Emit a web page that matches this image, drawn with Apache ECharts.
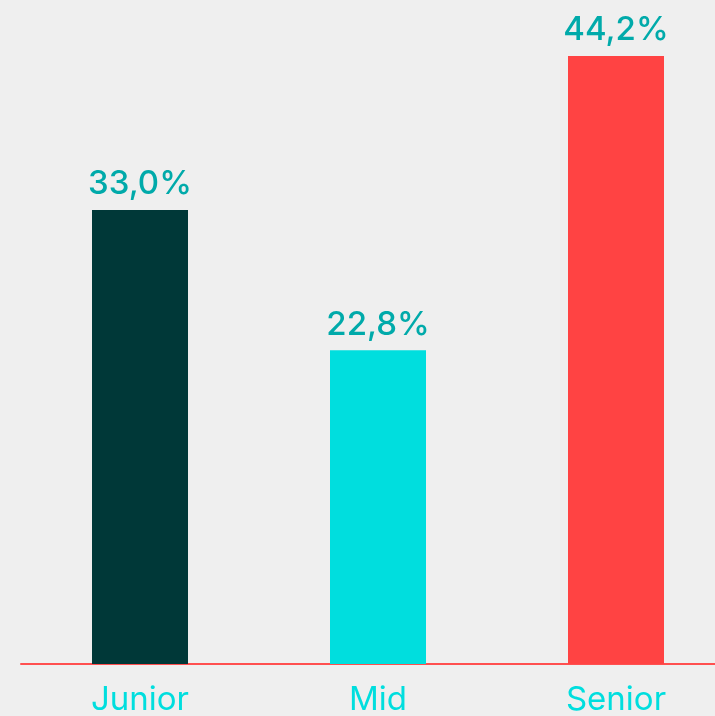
<!DOCTYPE html>
<html>
<head>
<meta charset="utf-8">
<script src="https://cdn.jsdelivr.net/npm/echarts@6/dist/echarts.min.js"></script>
<style>
  html, body { margin: 0; padding: 0; background: #efefef; }
  #main { width: 715px; height: 716px; }
</style>
</head>
<body>
<div id="main"></div>
<script>
// data
var categories = ['Junior', 'Mid', 'Senior'];
var values = [33.0, 22.8, 44.2];
var barColors = ['#003838', '#00dede', '#ff4343'];

var myChart = echarts.init(document.getElementById('main'));

var option = {
  backgroundColor: '#efefef',
  grid: {
    left: 21,
    right: -20,
    top: 56,
    bottom: 52,
    outerBoundsMode: 'none',
    containLabel: false
  },
  xAxis: {
    type: 'category',
    data: categories,
    axisLine: { lineStyle: { color: '#ff5050', width: 2 } },
    axisTick: { show: false },
    axisLabel: {
      color: '#00dede',
      fontFamily: 'Inter',
      fontSize: 33,
      margin: 20
    }
  },
  yAxis: {
    type: 'value',
    min: 0,
    max: 44.2,
    show: false,
    splitLine: { show: false }
  },
  series: [{
    type: 'bar',
    barWidth: 96,
    data: values.map(function (v, i) {
      return { value: v, itemStyle: { color: barColors[i] } };
    }),
    label: {
      show: true,
      position: 'top',
      distance: 9,
      color: '#00aaaa',
      fontFamily: 'Inter',
      fontWeight: 500,
      fontSize: 33,
      formatter: function (p) {
        return p.value.toFixed(1).replace('.', ',') + '%';
      }
    }
  }]
};

myChart.setOption(option);
</script>
</body>
</html>
